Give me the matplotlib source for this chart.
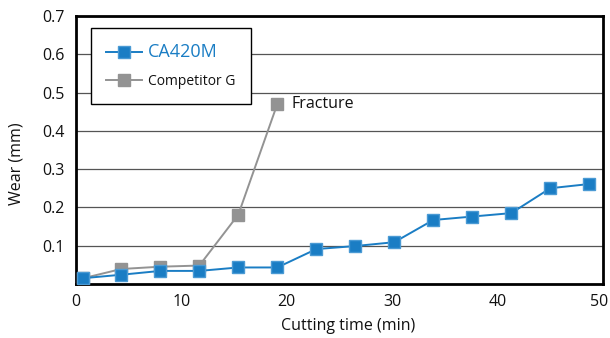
import matplotlib
matplotlib.use("Agg")
import matplotlib.pyplot as plt
import matplotlib.transforms as mtransforms

plt.rcParams['font.family'] = ['Open Sans', 'DejaVu Sans']

# cutting time (min) and wear (mm)
t_ca = [0.7, 4.3, 8.0, 11.7, 15.4, 19.1, 22.8, 26.5, 30.2, 33.9, 37.6, 41.3, 45.0, 48.7]
wear_ca = [0.015, 0.024, 0.034, 0.034, 0.043, 0.043, 0.091, 0.099, 0.109, 0.167, 0.176, 0.185, 0.250, 0.261]
t_comp = [0.7, 4.3, 8.0, 11.7, 15.4, 19.1]
wear_comp = [0.015, 0.039, 0.045, 0.048, 0.181, 0.470]
xticks = [0, 10, 20, 30, 40, 50]
yticks = [0.1, 0.2, 0.3, 0.4, 0.5, 0.6, 0.7]

blue = '#1a7dc4'
grey = '#939393'

fig = plt.figure(figsize=(6.1, 3.38), dpi=100)
ax = fig.add_axes([0.1246, 0.16, 0.8639, 0.7927])

ax.plot(t_comp, wear_comp, color=grey, lw=1.4, marker='s', ms=9,
        mec=grey, mfc=grey, label='Competitor G', zorder=3)
ax.plot(t_ca, wear_ca, color=blue, lw=1.4, marker='s', ms=9,
        mec='#4a9ad4', mfc=blue, label='CA420M', zorder=4)

ax.text(t_comp[-1] + 1.3, wear_comp[-1], 'Fracture', fontsize=11.5,
        va='center', ha='left', color='#111111')

ax.set_xlim(0, 50)
ax.set_ylim(0, 0.7)
ax.set_xticks(xticks)
ax.set_yticks(yticks)
ax.set_yticklabels([f'{v:.1f}' for v in yticks])
ax.tick_params(length=0, labelsize=11.5, colors='#111111')
ax.tick_params(axis='y', pad=8)
ax.tick_params(axis='x', pad=7)
ax.yaxis.grid(True, color='#555555', lw=0.9)
ax.set_axisbelow(True)
for s in ax.spines.values():
    s.set_linewidth(2)
    s.set_color('black')

# last x label sits right at the figure edge, nudge it in a little
lab = ax.get_xticklabels()[-1]
lab.set_transform(lab.get_transform() + mtransforms.ScaledTranslation(-4 / 100, 0, fig.dpi_scale_trans))

ax.set_xlabel('Cutting time (min)', fontsize=11.5, color='#111111')
ax.set_ylabel('Wear (mm)', fontsize=11.5, color='#111111')
ax.xaxis.set_label_coords(0.516, -0.157)
ax.yaxis.set_label_coords(-0.112, 0.448)
ax.xaxis.label.set_va('center')
ax.yaxis.label.set_va('center')

handles, labels = ax.get_legend_handles_labels()
leg = ax.legend(handles[::-1], labels[::-1], loc='upper left',
                bbox_to_anchor=(0.0285, 0.955), borderaxespad=0,
                frameon=True, fancybox=False,
                edgecolor='black', framealpha=1, borderpad=1.1,
                handlelength=2.6, labelspacing=0.9, handletextpad=0.4)
leg.get_frame().set_linewidth(1)
txts = leg.get_texts()
txts[0].set_color(blue)
txts[0].set_fontsize(13)
txts[1].set_color('#111111')
txts[1].set_fontsize(10)

fig.savefig('out.png', dpi=100)
